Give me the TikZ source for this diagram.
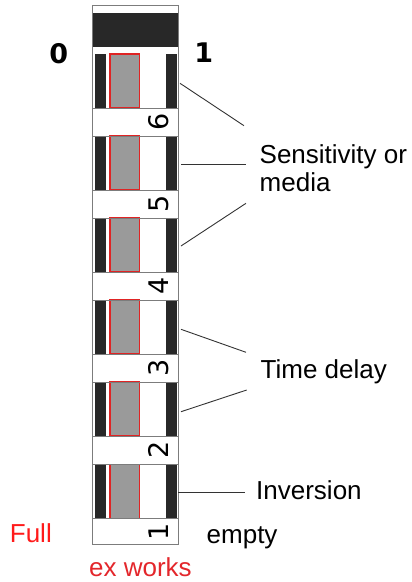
\documentclass[tikz,border=0pt]{standalone}
\usepackage{fontspec}
\usepackage{graphicx}
\setmainfont{Liberation Sans}
\newfontfamily\digitfont{DejaVu Sans}

\definecolor{barblack}{HTML}{282828}
\definecolor{framegray}{HTML}{7C7C7C}
\definecolor{slotgray}{HTML}{9A9A9A}
\definecolor{slotred}{HTML}{E02424}
\definecolor{leadgray}{HTML}{333333}
\definecolor{fullred}{HTML}{FF1A1A}
\definecolor{worksred}{HTML}{E3262B}

\begin{document}
\begin{tikzpicture}[x=1pt,y=-1pt,
  lbl/.style={font=\fontsize{26}{30}\selectfont, inner sep=0pt, anchor=base west},
  endlbl/.style={font=\digitfont\bfseries\fontsize{27}{30}\selectfont, inner sep=0pt},
  posnum/.style={font=\digitfont\fontsize{27}{30}\selectfont, inner sep=0pt},
  leader/.style={draw=leadgray, line width=0.9pt},
  divider/.style={draw=framegray, line width=1pt},
  slotfill/.style={fill=slotgray},
  slotedge/.style={draw=slotred, line width=1.6pt},
  darkbar/.style={fill=barblack}]
\useasboundingbox (0,0) rectangle (412,582);

% cartridge body
\fill[white] (92.3,5.7) rectangle (178.7,544);
\fill[darkbar] (92.3,13.3) rectangle (178.7,46.7);

% six positions, numbered from the bottom
\foreach \i in {1,...,6} {
  \pgfmathsetmacro\segtop{464.3-(\i-1)*82.06}
  \pgfmathsetmacro\segbot{\segtop+54}
  \pgfmathsetmacro\nummid{\segbot+13.6}
  \fill[darkbar] (95.3,\segtop) rectangle (105.7,\segbot);
  \fill[darkbar] (166,\segtop) rectangle (176.7,\segbot);
  \fill[slotfill] (110,\segtop) rectangle (139.6,\segbot);
  \draw[slotedge] (110,\segtop) -- (139.6,\segtop) -- (139.6,\segbot)
                  -- (110,\segbot) -- cycle;
  \draw[divider] (92.3,\segbot) -- (178.7,\segbot);
  \ifnum\i<6 \draw[divider] (92.3,\segtop) -- (178.7,\segtop); \fi
  \node[posnum] (p\i) at (158.8,\nummid) {\rotatebox{90}{\i}};
}
\draw[divider] (92.3,5.7) rectangle (178.7,544);

% end markers
\node[endlbl] (zero) at (58.7,53.3) {0};
\node[endlbl] (one) at (203.7,52.5) {1};

% labels
\node[lbl] (sens) at (259.5,163.3) {Sensitivity or};
\node[lbl] (media) at (259.5,191.7) {media};
\node[lbl] (tdelay) at (260.5,378.3) {Time delay};
\node[lbl] (inv) at (256,499.3) {Inversion};
\node[lbl] (empty) at (206.5,543.8) {empty};
\node[lbl, text=fullred] (full) at (9.7,542.7) {Full};
\node[lbl, text=worksred] (exworks) at (89,576.7) {ex works};

% leader lines
\coordinate (a1) at (180,83.3);   \coordinate (b1) at (244,125.7);
\coordinate (a2) at (181,164.3);  \coordinate (b2) at (246,164.3);
\coordinate (a3) at (181,246);    \coordinate (b3) at (246,203.3);
\coordinate (a4) at (181,329.3);  \coordinate (b4) at (246,352.3);
\coordinate (a5) at (181,411.7);  \coordinate (b5) at (246.7,390);
\coordinate (a6) at (178.3,492.7);\coordinate (b6) at (245,492.7);
\foreach \k in {1,...,6} \draw[leader] (a\k) -- (b\k);
\end{tikzpicture}
\end{document}
